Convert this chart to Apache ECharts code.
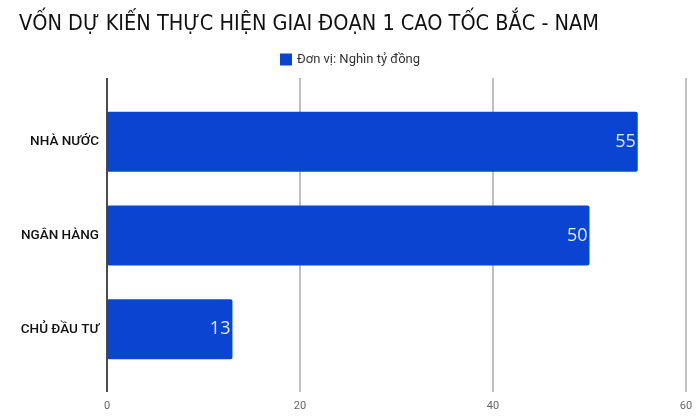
<!DOCTYPE html>
<html>
<head>
<meta charset="utf-8">
<script src="https://cdn.jsdelivr.net/npm/echarts@6/dist/echarts.min.js"></script>
<style>
  html, body { margin: 0; padding: 0; background: #fff; }
  #main { width: 700px; height: 419px; }
</style>
</head>
<body>
<div id="main"></div>
<script>
var titleText = 'VỐN DỰ KIẾN THỰC HIỆN GIAI ĐOẠN 1 CAO TỐC BẮC - NAM';
var seriesName = 'Đơn vị: Nghìn tỷ đồng';
var categories = ['NHÀ NƯỚC', 'NGÂN HÀNG', 'CHỦ ĐẦU TƯ'];
var values = [55, 50, 13];
var xMin = 0, xMax = 60, xStep = 20;

document.addEventListener("DOMContentLoaded", function(){
  var myChart = echarts.init(document.getElementById('main'));

  var option = {
    backgroundColor: '#fff',
    animation: false,
    title: {
      text: titleText,
      left: 14,
      top: 8,
      textStyle: {
        fontFamily: "'DejaVu Sans Condensed', Roboto",
        fontSize: 21.5,
        fontWeight: 500,
        color: '#111'
      }
    },
    legend: {
      data: [seriesName],
      top: 48,
      left: 'center',
      icon: 'rect',
      itemWidth: 12,
      itemHeight: 12,
      itemGap: 8,
      textStyle: { fontFamily: 'Roboto', fontSize: 13, color: '#333' }
    },
    // grid 0 only carries the long gridlines and tick labels,
    // grid 1 holds the bars
    grid: [
      { left: 107, right: 14, top: 78, bottom: 27 },
      { left: 107, right: 14, top: 95, bottom: 43 }
    ],
    xAxis: [
      {
        gridIndex: 0, type: 'value', min: xMin, max: xMax, interval: xStep,
        axisLine: { show: false }, axisTick: { show: false },
        axisLabel: { margin: 9, color: '#666', fontFamily: 'Roboto', fontSize: 11 },
        splitLine: { lineStyle: { color: ['#111', '#aaa', '#aaa', '#aaa'], width: 1.5 } }
      },
      {
        gridIndex: 1, type: 'value', min: xMin, max: xMax, interval: xStep,
        show: false, splitLine: { show: false }
      }
    ],
    yAxis: [
      { gridIndex: 0, type: 'value', show: false, splitLine: { show: false } },
      {
        gridIndex: 1, type: 'category', data: categories, inverse: true,
        axisLine: { show: false }, axisTick: { show: false },
        axisLabel: { margin: 8, color: '#111', fontFamily: 'Roboto', fontSize: 13.5, fontWeight: 500 }
      }
    ],
    series: [
      {
        name: seriesName,
        type: 'bar',
        xAxisIndex: 1,
        yAxisIndex: 1,
        data: values,
        barWidth: 60,
        itemStyle: { color: '#0a45d2', borderRadius: 2 },
        label: {
          show: true,
          position: 'insideRight',
          distance: 2,
          color: '#e4ecff',
          fontFamily: 'Open Sans',
          fontSize: 18
        }
      }
    ]
  };

  option && myChart.setOption(option);
});
</script>
</body>
</html>
